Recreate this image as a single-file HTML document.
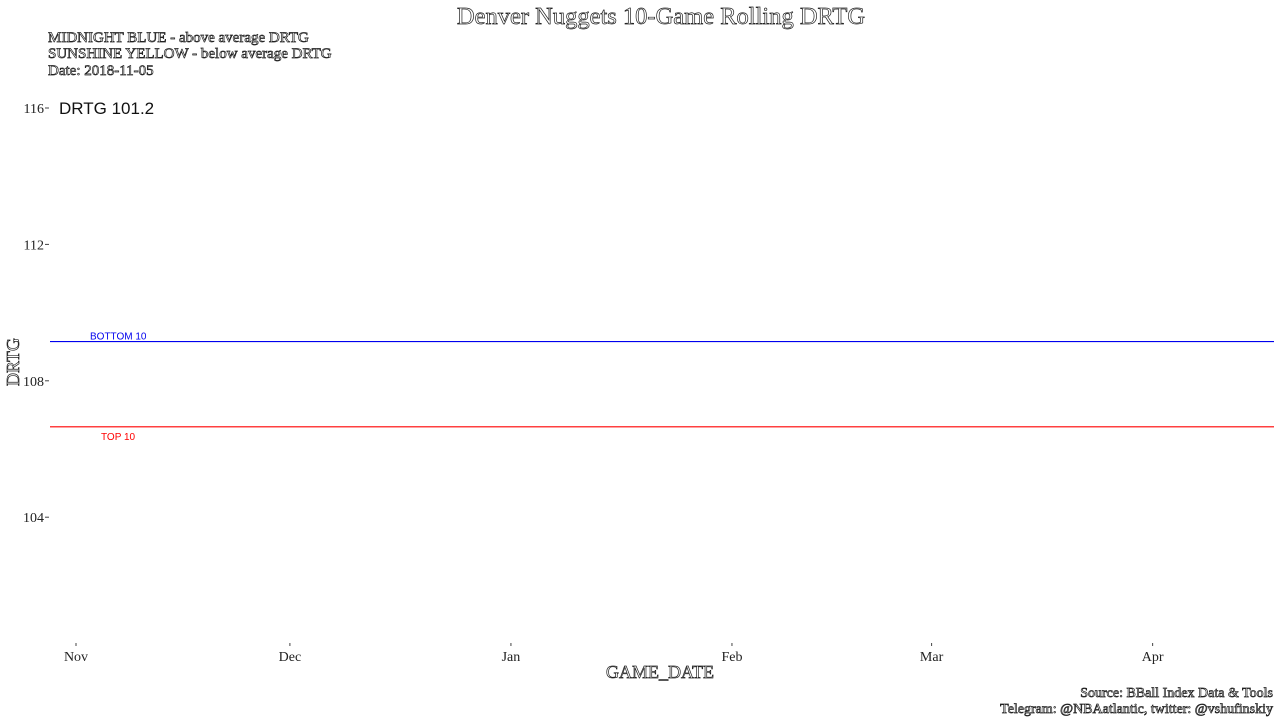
<!DOCTYPE html>
<html><head><meta charset="utf-8"><style>
body{margin:0;background:#fff;width:1280px;height:720px;overflow:hidden}
.h{fill:#fff;stroke:#222;stroke-width:0.7px;font-family:"Liberation Serif",serif}
</style></head><body>
<svg id="c" width="1280" height="720" xmlns="http://www.w3.org/2000/svg">
<text class="h" x="661" y="24" font-size="24.5" text-anchor="middle">Denver Nuggets 10-Game Rolling DRTG</text>
<text class="h" x="48" y="42" font-size="15">MIDNIGHT BLUE - above average DRTG</text>
<text class="h" x="48" y="58" font-size="15">SUNSHINE YELLOW - below average DRTG</text>
<text class="h" x="48" y="75" font-size="15">Date: 2018-11-05</text>
<text x="59" y="114" font-size="17" fill="#111" font-family="Liberation Sans,sans-serif">DRTG 101.2</text>
<text class="h" transform="translate(19,362) rotate(-90)" font-size="18" text-anchor="middle">DRTG</text>
<text class="h" x="660" y="678" font-size="18" text-anchor="middle">GAME_DATE</text>
<text class="h" x="1273" y="697" font-size="14" text-anchor="end">Source: BBall Index Data &amp; Tools</text>
<text class="h" x="1273" y="713" font-size="14" text-anchor="end">Telegram: @NBAatlantic, twitter: @vshufinskiy</text>
<g id="g"></g>
</svg>
<script>
const yTicks=[104,108,112,116];
const xTickLabels=["Nov","Dec","Jan","Feb","Mar","Apr"];
const xTickDays=[0,30,61,92,120,151];
const refValues=[109.15,106.65];
const refLabels=["BOTTOM 10","TOP 10"];
const refColors=["#0000ee","#ff0000"];
const y=v=>108+(116-v)*34.1;
const x=d=>76+d*7.13;
const g=document.getElementById('g');
const NS="http://www.w3.org/2000/svg";
function mk(t,a){const e=document.createElementNS(NS,t);for(const k in a)e.setAttribute(k,a[k]);g.appendChild(e);return e;}
yTicks.forEach(v=>{
 const t=mk('text',{x:44,y:y(v)+5,'font-size':14,'text-anchor':'end','font-family':'Liberation Serif,serif',fill:'#222'});
 t.textContent=v;
 
 
 const l=mk('line',{x1:45,x2:49,y1:y(v),y2:y(v),stroke:'#444'});
 
 
});
xTickLabels.forEach((s,i)=>{
 const t=mk('text',{x:x(xTickDays[i]),y:661,'font-size':14,'text-anchor':'middle','font-family':'Liberation Serif,serif',fill:'#222'});
 t.textContent=s;
 
 
 const l=mk('line',{x1:x(xTickDays[i]),x2:x(xTickDays[i]),y1:643,y2:646,stroke:'#444'});
 
 
});
refValues.forEach((v,i)=>{
 const l=mk('line',{x1:50,x2:1274,y1:y(v),y2:y(v),stroke:refColors[i],'stroke-width':1.2});
 
 
 const t=mk('text',{x:i==0?90:101,y:i==0?y(v)-2:y(v)+13,'font-size':10,fill:refColors[i],'font-family':'Liberation Sans,sans-serif'});
 t.textContent=refLabels[i];
 
 
});
</script>
</body></html>
